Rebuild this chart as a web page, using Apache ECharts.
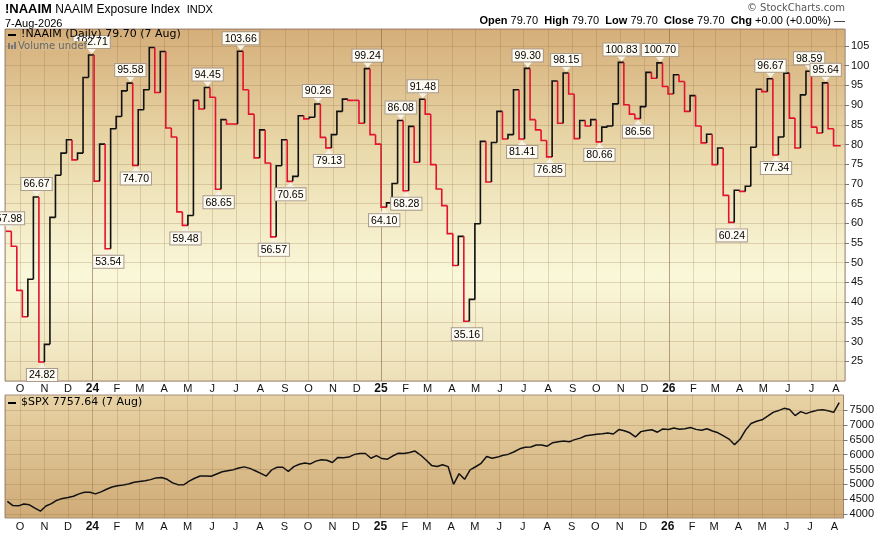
<!DOCTYPE html>
<html>
<head>
<meta charset="utf-8">
<script src="https://cdn.jsdelivr.net/npm/echarts@6/dist/echarts.min.js"></script>
<style>
html, body { margin: 0; padding: 0; background: #fff; }
#chart { width: 877px; height: 537px; }
</style>
</head>
<body>
<div id="chart"></div>
<script>
// weekly NAAIM readings, first one on Wed 13-Sep-2023
var naaimStart = [2023, 8, 13];
var lastDay = [2026, 7, 7];
var naaimValues = [
    57.98, 54.2, 43.0, 36.3, 45.8, 66.67, 24.82, 29.3, 61.5, 72.2,
    77.8, 81.2, 76.1, 77.8, 97.0, 102.71, 70.7, 80.1, 53.54, 84.0,
    87.1, 93.6, 95.58, 74.70, 88.8, 93.9, 104.6, 93.2, 103.6, 84.2,
    81.9, 62.9, 59.48, 62.0, 91.2, 89.0, 94.45, 92.0, 68.65, 86.3,
    85.2, 85.2, 103.66, 93.9, 87.7, 76.6, 83.7, 75.3, 56.57, 74.6,
    81.2, 70.65, 71.9, 87.3, 86.5, 86.9, 90.26, 81.8, 79.13, 82.5,
    88.4, 91.5, 91.2, 91.2, 85.4, 99.24, 82.5, 80.1, 64.10, 65.2,
    70.1, 86.08, 68.28, 84.6, 75.5, 91.48, 87.7, 74.9, 68.7, 64.5,
    57.4, 49.3, 56.7, 35.16, 40.7, 59.9, 80.8, 70.5, 80.5, 88.4,
    81.4, 82.5, 93.9, 81.41, 99.30, 86.3, 83.7, 81.0, 76.85, 96.1,
    85.4, 98.15, 92.8, 81.5, 86.1, 84.7, 86.3, 80.66, 84.4, 84.7,
    90.3, 100.83, 90.1, 87.7, 86.56, 89.6, 98.3, 96.8, 100.70, 94.7,
    92.8, 97.7, 96.0, 88.4, 92.4, 84.7, 80.4, 82.6, 74.9, 79.1,
    67.1, 60.24, 68.4, 68.1, 69.4, 79.3, 94.0, 93.4, 96.67, 77.34,
    81.9, 98.1, 86.7, 79.1, 92.6, 98.59, 84.4, 82.9, 95.64, 84.0,
    79.70
];
// annotated turning points: [week index, 1 = label above / 0 = below]
var naaimTags = [
    [0, 1], [5, 1], [6, 0], [15, 1], [18, 0], [22, 1], [23, 0], [32, 0],
    [36, 1], [38, 0], [42, 1], [48, 0], [51, 0], [56, 1], [58, 0], [65, 1],
    [68, 0], [71, 1], [72, 0], [75, 1], [83, 0], [93, 0], [94, 1], [98, 0],
    [101, 1], [107, 0], [111, 1], [114, 0], [118, 1], [131, 0], [138, 1],
    [139, 0], [145, 1], [148, 1]
];
// weekly S&P 500 closes, first one on Fri 15-Sep-2023
var spxStart = [2023, 8, 15];
var spxValues = [
    4429, 4285, 4275, 4336, 4310, 4200, 4095, 4270, 4350, 4466,
    4526, 4555, 4600, 4680, 4735, 4735, 4680, 4748, 4835, 4910,
    4955, 4980, 5015, 5070, 5100, 5123, 5160, 5218, 5230, 5170,
    5050, 4990, 4985, 5110, 5207, 5280, 5285, 5275, 5350, 5425,
    5460, 5494, 5554, 5590, 5540, 5460, 5370, 5280, 5490, 5580,
    5578, 5440, 5600, 5680, 5720, 5689, 5785, 5828, 5812, 5740,
    5910, 5895, 5920, 6010, 6045, 6040, 5880, 5970, 5870, 5850,
    5965, 6050, 6040, 6073, 6125, 5990, 5820, 5640, 5605, 5660,
    5600, 5000, 5360, 5170, 5490, 5595, 5710, 5940, 5880, 5920,
    5985, 6020, 6100, 6200, 6251, 6262, 6330, 6330, 6290, 6405,
    6440, 6467, 6436, 6510, 6560, 6640, 6665, 6690, 6710, 6732,
    6700, 6850, 6810, 6740, 6600, 6780, 6820, 6843, 6760, 6872,
    6855, 6900, 6860, 6875, 6920, 6856, 6825, 6875, 6802, 6740,
    6635, 6530, 6340, 6520, 6830, 7055, 7130, 7178, 7300, 7430,
    7490, 7566, 7530, 7320, 7455, 7388, 7454, 7498, 7520, 7487,
    7430, 7757.64
];
var spxTicks = [4000, 4500, 5000, 5500, 6000, 6500, 7000, 7500];
var monthLetters = ['J', 'F', 'M', 'A', 'M', 'J', 'J', 'A', 'S', 'O', 'N', 'D'];
var yearStarts = ['2024-01-01', '2025-01-01', '2026-01-01'];

var RED = '#e3122f';
var DAY = 86400000;
var xMin = new Date(2023, 8, 12).getTime();
var xMax = new Date(2026, 7, 12, 12).getTime();
var endTime = new Date(lastDay[0], lastDay[1], lastDay[2]).getTime();

function weekly(start, i) {
    return new Date(start[0], start[1], start[2] + 7 * i).getTime();
}

// each row: [date, value, previous value, next date, 1 if falling]
var naaimRows = [];
var lastDown = 1;
for (var i = 0; i < naaimValues.length; i++) {
    var v = naaimValues[i];
    var prev = i ? naaimValues[i - 1] : v;
    var down = v < prev ? 1 : (v > prev ? 0 : lastDown);
    lastDown = down;
    var next = i < naaimValues.length - 1 ? weekly(naaimStart, i + 1) : endTime;
    naaimRows.push([weekly(naaimStart, i), v, prev, next, down]);
}
var tagRows = naaimTags.map(function (t) {
    return [weekly(naaimStart, t[0]) + 4 * DAY, naaimValues[t[0]], t[1]];
});
var spxRows = spxValues.map(function (v, i) {
    return [weekly(spxStart, i), v];
});

function renderStep(params, api) {
    var a = api.coord([api.value(0), api.value(2)]);
    var b = api.coord([api.value(0), api.value(1)]);
    var c = api.coord([api.value(3), api.value(1)]);
    return {
        type: 'polyline',
        shape: { points: [a, b, c] },
        style: { stroke: api.value(4) === 1 ? RED : '#111', lineWidth: 1.6, fill: null }
    };
}

function renderTag(params, api) {
    var pt = api.coord([api.value(0), api.value(1)]);
    var above = api.value(2) === 1;
    var s = above ? -1 : 1;
    var tip = pt[1] + s * 1, base = pt[1] + s * 7;
    return {
        type: 'group',
        children: [{
            type: 'polygon',
            shape: { points: [[pt[0], tip], [pt[0] - 5, base], [pt[0] + 5, base]] },
            style: { fill: '#f6f1e2' }
        }, {
            type: 'text',
            x: pt[0],
            y: base,
            style: {
                text: api.value(1).toFixed(2),
                fill: '#000',
                font: '10.5px "Liberation Sans"',
                align: 'center',
                verticalAlign: above ? 'bottom' : 'top',
                backgroundColor: '#fdfbf2',
                borderColor: '#a99a8b',
                borderWidth: 1,
                padding: [1, 2, 0, 2]
            }
        }]
    };
}

function monthLabel(val) {
    var d = new Date(val);
    if (d.getDate() !== 1 || d.getHours() !== 0) return '';
    var m = d.getMonth();
    if (m === 0) return '{y|' + String(d.getFullYear()).slice(2) + '}';
    return monthLetters[m];
}

var gridLine = 'rgba(135,95,55,0.22)';
function timeAxis(idx, margin) {
    return {
        type: 'time',
        gridIndex: idx,
        min: xMin,
        max: xMax,
        splitNumber: 36,
        minInterval: 28 * DAY,
        axisLine: { show: false },
        axisTick: { show: false },
        splitLine: { show: true, lineStyle: { color: gridLine, width: 1 } },
        axisLabel: {
            interval: 0,
            hideOverlap: false,
            showMinLabel: false,
            showMaxLabel: false,
            margin: margin,
            color: '#111',
            fontSize: 11,
            fontFamily: 'Liberation Sans',
            formatter: monthLabel,
            rich: { y: { fontWeight: 'bold', fontSize: 12, fontFamily: 'Liberation Sans', color: '#111' } }
        }
    };
}

var yearMarks = {
    silent: true,
    symbol: 'none',
    label: { show: false },
    lineStyle: { color: 'rgba(120,85,50,0.4)', width: 1, type: 'solid' },
    data: yearStarts.map(function (d) { return { xAxis: d }; })
};

var chart = echarts.init(document.getElementById('chart'));
var lastNaaim = naaimValues[naaimValues.length - 1].toFixed(2);
var lastSpx = spxValues[spxValues.length - 1].toFixed(2);

chart.setOption({
    animation: false,
    backgroundColor: '#fff',
    grid: [{
        left: 5, width: 840, top: 29, height: 352,
        show: true, borderColor: '#a48d7c', borderWidth: 1,
        backgroundColor: {
            type: 'linear', x: 0, y: 0, x2: 0, y2: 1,
            colorStops: [
                { offset: 0, color: '#d5ae79' },
                { offset: 0.35, color: '#eadaac' },
                { offset: 0.7, color: '#faf8da' },
                { offset: 1, color: '#ede0b8' }
            ]
        }
    }, {
        left: 5, width: 840, top: 395, height: 123,
        show: true, borderColor: '#a48d7c', borderWidth: 1,
        backgroundColor: {
            type: 'linear', x: 0, y: 0, x2: 0, y2: 1,
            colorStops: [
                { offset: 0, color: '#e8d3a5' },
                { offset: 1, color: '#cfab77' }
            ]
        }
    }],
    xAxis: [timeAxis(0, 2), timeAxis(1, 3)],
    yAxis: [{
        type: 'value',
        gridIndex: 0,
        position: 'right',
        min: 20,
        max: 109.3,
        interval: 5,
        axisLine: { show: false },
        axisTick: { show: true, length: 4, lineStyle: { color: '#777' } },
        splitLine: { show: true, lineStyle: { color: gridLine } },
        axisLabel: {
            showMinLabel: false,
            showMaxLabel: false,
            margin: 6,
            color: '#111',
            fontSize: 11,
            fontFamily: 'Liberation Sans'
        }
    }, {
        type: 'value',
        gridIndex: 1,
        position: 'right',
        min: 3865,
        max: 8016,
        axisLine: { show: false },
        axisTick: { show: true, length: 4, customValues: spxTicks, lineStyle: { color: '#777' } },
        splitLine: { show: false },
        axisLabel: {
            customValues: spxTicks,
            margin: 6,
            color: '#111',
            fontSize: 11,
            fontFamily: 'Liberation Sans',
            formatter: function (v) { return String(v); }
        }
    }],
    series: [{
        type: 'custom',
        name: 'NAAIM',
        xAxisIndex: 0,
        yAxisIndex: 0,
        renderItem: renderStep,
        encode: { x: [0, 3], y: [1, 2] },
        data: naaimRows,
        z: 3,
        markLine: yearMarks
    }, {
        type: 'custom',
        name: 'tags',
        xAxisIndex: 0,
        yAxisIndex: 0,
        renderItem: renderTag,
        encode: { x: 0, y: 1 },
        data: tagRows,
        z: 5
    }, {
        type: 'line',
        name: '$SPX',
        xAxisIndex: 1,
        yAxisIndex: 1,
        data: spxRows,
        showSymbol: false,
        lineStyle: { color: '#111', width: 1.5 },
        z: 3,
        markLine: {
            silent: true,
            symbol: 'none',
            label: { show: false },
            lineStyle: { color: gridLine, width: 1, type: 'solid' },
            data: spxTicks.map(function (t) { return { yAxis: t }; })
                .concat(yearStarts.map(function (d) { return { xAxis: d }; }))
        }
    }],
    graphic: [
        {
            type: 'text', left: 5, top: 3, z: 100,
            style: {
                text: '{a|!NAAIM} {b|NAAIM Exposure Index}  {c|INDX}',
                fill: '#000',
                rich: {
                    a: { font: 'bold 13px "Liberation Sans"', fill: '#000' },
                    b: { font: '12px "Liberation Sans"', fill: '#000' },
                    c: { font: '11px "Liberation Sans"', fill: '#000' }
                }
            }
        },
        { type: 'text', left: 5, top: 18, z: 100, style: { text: '7-Aug-2026', font: '11px "Liberation Sans"', fill: '#000' } },
        { type: 'text', right: 32, top: 3, z: 100, style: { text: '\u00a9 StockCharts.com', font: '10px "DejaVu Sans"', fill: '#555' } },
        {
            type: 'text', right: 32, top: 15, z: 100,
            style: {
                text: '{b|Open} ' + lastNaaim + '  {b|High} ' + lastNaaim + '  {b|Low} ' + lastNaaim +
                    '  {b|Close} ' + lastNaaim + '  {b|Chg} +0.00 (+0.00%) \u2014',
                font: '11px "Liberation Sans"',
                fill: '#000',
                rich: { b: { font: 'bold 11px "Liberation Sans"', fill: '#000' } }
            }
        },
        { type: 'rect', left: 8, top: 34, z: 100, shape: { width: 8, height: 2 }, style: { fill: '#000' } },
        { type: 'text', left: 21, top: 29, z: 100, style: { text: '!NAAIM (Daily) ' + lastNaaim + ' (7 Aug)', font: '11px "DejaVu Sans"', fill: '#000' } },
        { type: 'rect', left: 8, top: 43, z: 100, shape: { width: 2, height: 6 }, style: { fill: '#777' } },
        { type: 'rect', left: 11, top: 45, z: 100, shape: { width: 2, height: 4 }, style: { fill: '#777' } },
        { type: 'rect', left: 14, top: 42, z: 100, shape: { width: 2, height: 7 }, style: { fill: '#777' } },
        {
            type: 'text', left: 18, top: 41, z: 100,
            style: { text: 'Volume undef', font: '10px "DejaVu Sans"', fill: '#666', backgroundColor: '#d8b886' }
        },
        { type: 'rect', left: 8, top: 402, z: 100, shape: { width: 8, height: 2 }, style: { fill: '#000' } },
        { type: 'text', left: 21, top: 397, z: 100, style: { text: '$SPX ' + lastSpx + ' (7 Aug)', font: '11px "DejaVu Sans"', fill: '#000' } }
    ]
});
</script>
</body>
</html>
